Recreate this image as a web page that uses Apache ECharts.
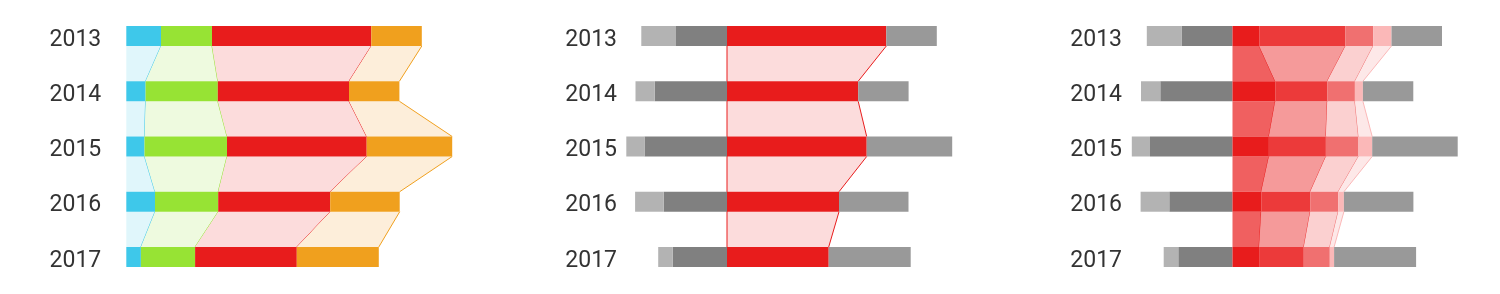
<!DOCTYPE html>
<html>
<head>
<meta charset="utf-8">
<script src="https://cdn.jsdelivr.net/npm/echarts@6/dist/echarts.min.js"></script>
<style>
html,body{margin:0;padding:0;background:#fff;}
#chart{width:1500px;height:294px;}
</style>
</head>
<body>
<div id="chart"></div>
<script>
// ---- data ----
const years = ['2013', '2014', '2015', '2016', '2017'];
const cyan = [34.7, 19.3, 18.2, 28.7, 14.6];
const green = [51.0, 72.2, 82.5, 63.2, 54.2];
const red = [159.3, 131.2, 139.7, 112.0, 101.7];
const orange = [50.5, 50.4, 85.5, 69.5, 82.0];
// red split (third panel)
const red1 = [26.7, 42.7, 36.4, 28.7, 26.6];
const red2 = [86.3, 52.0, 57.0, 49.0, 44.7];
const red3 = [27.7, 27.7, 32.6, 28.0, 26.0];
const red4 = [18.3, 8.0, 13.7, 5.7, 4.3];

// ---- styles ----
const C = {
  cyan: '#3ec8ea', green: '#97e334', red: '#e81c1c', orange: '#f0a01e',
  cyanL: '#e0f6fb', greenL: '#eefadf', redL: '#fcdcdc', orangeL: '#fdeeda',
  grayL: '#b3b3b3', grayD: '#808080', grayR: '#999999',
  r1: '#e81c1c', r2: '#ec3a3a', r3: '#f07070', r4: '#fbb8b8',
  r1L: '#f06060', r2L: '#f59a9a', r3L: '#fbd0d0', r4L: '#fde8e8'
};
const BAR_H = 20;
const HALF = BAR_H / 2;

const panels = [
  { left: 126.3, min: 0, labelMargin: 25 },
  { left: 620, min: -107, labelMargin: 3 },
  { left: 1125, min: -107.5, labelMargin: 3 }
];
const GW = 340;

const grids = [], xAxes = [], yAxes = [], series = [];
panels.forEach((p, k) => {
  grids.push({ left: p.left, width: GW, top: 8.4, height: 276.2 });
  xAxes.push({ type: 'value', gridIndex: k, min: p.min, max: p.min + GW, show: false });
  yAxes.push({
    type: 'category', gridIndex: k, data: years, inverse: true,
    axisLine: { show: false }, axisTick: { show: false }, splitLine: { show: false },
    axisLabel: {
      margin: p.labelMargin,
      formatter: v => '{y|' + v + '}',
      rich: { y: { fontFamily: 'Roboto', fontSize: 23, color: '#333', padding: [8, 0, 0, 0] } }
    }
  });
});

function barSeries(k, stack, values, color, neg) {
  series.push({
    type: 'bar', xAxisIndex: k, yAxisIndex: k, stack: stack, barWidth: BAR_H,
    data: values.map(v => neg ? -v : v), itemStyle: { color: color },
    silent: true, z: 3, animation: false
  });
}

function connectorSeries(k, starts, ends, fill, stroke) {
  const data = [];
  for (let i = 0; i < years.length - 1; i++) {
    data.push([i, starts[i], ends[i], starts[i + 1], ends[i + 1]]);
  }
  series.push({
    type: 'custom', xAxisIndex: k, yAxisIndex: k, silent: true, z: 2, animation: false,
    encode: { x: [1, 2, 3, 4], y: 0 },
    data: data,
    renderItem: function (params, api) {
      const i = api.value(0);
      const a0 = api.coord([api.value(1), i]);
      const a1 = api.coord([api.value(2), i]);
      const b0 = api.coord([api.value(3), i + 1]);
      const b1 = api.coord([api.value(4), i + 1]);
      const yA = a0[1] + HALF, yB = b0[1] - HALF;
      return {
        type: 'group',
        children: [
          { type: 'polygon', shape: { points: [[a0[0], yA], [a1[0], yA], [b1[0], yB], [b0[0], yB]] },
            style: { fill: fill } },
          { type: 'line', shape: { x1: a1[0], y1: yA, x2: b1[0], y2: yB },
            style: { stroke: stroke, lineWidth: 1 } }
        ]
      };
    }
  });
}

function cum(arrays) {
  const out = [];
  let base = years.map(() => 0);
  arrays.forEach(arr => {
    const s = base.slice();
    const e = base.map((b, i) => b + arr[i]);
    out.push([s, e]);
    base = e;
  });
  return out;
}

// ---- panel 1 ----
const p1 = cum([cyan, green, red, orange]);
const p1Fill = [C.cyanL, C.greenL, C.redL, C.orangeL];
const p1Col = [C.cyan, C.green, C.red, C.orange];
p1.forEach((se, j) => connectorSeries(0, se[0], se[1], p1Fill[j], p1Col[j]));
barSeries(0, 'a', cyan, C.cyan);
barSeries(0, 'a', green, C.green);
barSeries(0, 'a', red, C.red);
barSeries(0, 'a', orange, C.orange);

// ---- panel 2 ----
connectorSeries(1, years.map(() => 0), red, C.redL, C.red);
series.push({
  type: 'custom', xAxisIndex: 1, yAxisIndex: 1, silent: true, z: 2, animation: false,
  encode: { x: 1, y: 0 },
  data: [[0, 0]],
  renderItem: function (params, api) {
    const a = api.coord([0, 0]);
    const b = api.coord([0, years.length - 1]);
    return { type: 'line', shape: { x1: a[0], y1: a[1], x2: b[0], y2: b[1] }, style: { stroke: C.red, lineWidth: 1 } };
  }
});
barSeries(1, 'b', green, C.grayD, true);
barSeries(1, 'b', cyan, C.grayL, true);
barSeries(1, 'b', red, C.red);
barSeries(1, 'b', orange, C.grayR);

// ---- panel 3 ----
const p3 = cum([red1, red2, red3, red4]);
const p3Fill = [C.r1L, C.r2L, C.r3L, C.r4L];
const p3Col = [C.r1, C.r2, C.r3, C.r4];
p3.forEach((se, j) => connectorSeries(2, se[0], se[1], p3Fill[j], p3Col[j]));
barSeries(2, 'c', green, C.grayD, true);
barSeries(2, 'c', cyan, C.grayL, true);
barSeries(2, 'c', red1, C.r1);
barSeries(2, 'c', red2, C.r2);
barSeries(2, 'c', red3, C.r3);
barSeries(2, 'c', red4, C.r4);
barSeries(2, 'c', orange, C.grayR);

const chart = echarts.init(document.getElementById('chart'), null, { renderer: 'canvas' });
chart.setOption({
  animation: false,
  grid: grids, xAxis: xAxes, yAxis: yAxes, series: series
});
</script>
</body>
</html>
